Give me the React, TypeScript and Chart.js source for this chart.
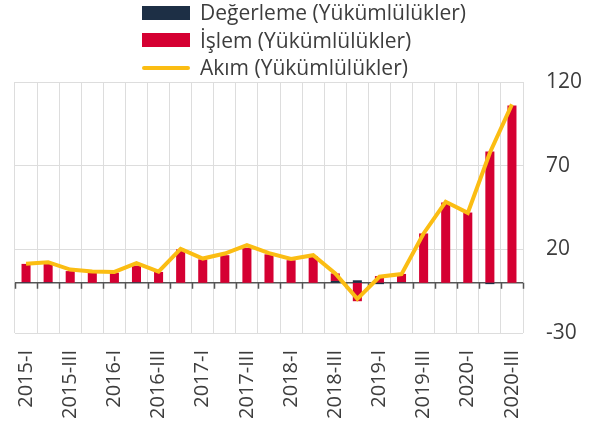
import React, { useEffect, useRef } from 'react';
import { Chart, registerables } from 'chart.js';

Chart.register(...registerables);

const categories = [
  '2015-I', '2015-II', '2015-III', '2015-IV',
  '2016-I', '2016-II', '2016-III', '2016-IV',
  '2017-I', '2017-II', '2017-III', '2017-IV',
  '2018-I', '2018-II', '2018-III', '2018-IV',
  '2019-I', '2019-II', '2019-III', '2019-IV',
  '2020-I', '2020-II', '2020-III',
];

const degerleme = [0.3, 0.3, 0, 0, 0, 0.3, 0, 0, 0, 0, 0, 0, 0, 0, 1.1, 1.5, -0.8, 0.3, 0, 0, 0, -0.8, 0];
const islem = [11, 11.5, 7, 6, 6, 10, 6.5, 20, 14, 16.5, 21, 17, 13.5, 16, 4.5, -11, 4, 5, 29.5, 48, 42, 78.5, 106];
const akim = [11.4, 12.3, 7.9, 6.7, 6.5, 11.7, 6.7, 20.3, 14.5, 17.5, 22.5, 17.7, 14.3, 16.5, 5.6, -9.6, 3.6, 5.2, 29.5, 48.4, 41.8, 77.7, 106.6];

const yTicks = [-30, 20, 70, 120];

const legendItems = [
  { label: 'Değerleme (Yükümlülükler)', color: '#1d2f45', kind: 'box' },
  { label: 'İşlem (Yükümlülükler)', color: '#d50032', kind: 'box' },
  { label: 'Akım (Yükümlülükler)', color: '#fbbd13', kind: 'line' },
];

const FONT = "'Open Sans', sans-serif";
const TEXT = '#3d3d3d';

const zeroAxisPlugin = {
  id: 'zeroAxis',
  beforeDatasetsDraw(chart: any) {
    const { ctx, chartArea, scales } = chart;
    const y0 = scales.y.getPixelForValue(0);
    const x = scales.x;
    const step = x.getPixelForValue(1) - x.getPixelForValue(0);
    ctx.save();
    ctx.strokeStyle = '#555555';
    ctx.lineWidth = 1.5;
    ctx.beginPath();
    ctx.moveTo(chartArea.left, y0);
    ctx.lineTo(chartArea.right, y0);
    for (let i = 0; i <= categories.length; i++) {
      const px = i < categories.length ? x.getPixelForValue(i) - step / 2 : chartArea.right;
      ctx.moveTo(Math.round(px) + 0.5, y0);
      ctx.lineTo(Math.round(px) + 0.5, y0 + 6);
    }
    ctx.stroke();
    ctx.restore();
  },
};

export default function App() {
  const ref = useRef<HTMLCanvasElement | null>(null);

  useEffect(() => {
    document.body.style.margin = '0';
    if (!ref.current) return;
    const chart = new Chart(ref.current, {
      type: 'bar',
      data: {
        labels: categories,
        datasets: [
          {
            type: 'line',
            label: 'Akım (Yükümlülükler)',
            data: akim,
            borderColor: '#fbbd13',
            backgroundColor: '#fbbd13',
            borderWidth: 4,
            pointRadius: 0,
            tension: 0,
            order: 0,
          } as any,
          {
            label: 'Değerleme (Yükümlülükler)',
            data: degerleme,
            backgroundColor: '#1d2f45',
            stack: 's',
            order: 1,
            barPercentage: 0.41,
            categoryPercentage: 1,
          },
          {
            label: 'İşlem (Yükümlülükler)',
            data: islem,
            backgroundColor: '#d50032',
            stack: 's',
            order: 1,
            barPercentage: 0.41,
            categoryPercentage: 1,
          },
        ],
      },
      options: {
        animation: false,
        responsive: false,
        layout: { padding: { top: 82, left: 15, right: 0, bottom: 6 } },
        plugins: {
          legend: { display: false },
          tooltip: { enabled: false },
        },
        scales: {
          x: {
            stacked: true,
            grid: { color: '#dddddd', lineWidth: 1, offset: true, drawTicks: false },
            border: { display: false },
            afterFit: (axis: any) => {
              axis.height = 91;
            },
            ticks: {
              autoSkip: false,
              minRotation: 90,
              maxRotation: 90,
              padding: 17,
              color: TEXT,
              font: { family: FONT, size: 20 },
              callback: (_v: any, i: number) => (i % 2 === 0 ? categories[i] : ''),
            },
          },
          y: {
            stacked: true,
            position: 'right',
            min: -30,
            max: 120,
            afterBuildTicks: (axis: any) => {
              axis.ticks = yTicks.map((v) => ({ value: v }));
            },
            afterFit: (axis: any) => {
              axis.width = 75;
            },
            grid: { color: '#dddddd', lineWidth: 1, drawTicks: false },
            border: { display: false },
            ticks: {
              padding: 23,
              color: TEXT,
              font: { family: FONT, size: 21 },
            },
          },
        },
      },
      plugins: [zeroAxisPlugin],
    });
    return () => chart.destroy();
  }, []);

  return (
    <div style={{ position: 'relative', width: 598, height: 430, background: '#fff' }}>
      <canvas ref={ref} width={598} height={430} style={{ position: 'absolute', left: 0, top: 0 }} />
      <div style={{ position: 'absolute', left: 142, top: -1, fontFamily: FONT, fontSize: 21, color: TEXT }}>
        {legendItems.map((it) => (
          <div key={it.label} style={{ display: 'flex', alignItems: 'center', height: 27.5, lineHeight: '27px', whiteSpace: 'nowrap' }}>
            {it.kind === 'box' ? (
              <span style={{ display: 'inline-block', width: 48, height: 14, background: it.color, marginRight: 10 }} />
            ) : (
              <span style={{ display: 'inline-block', width: 48, height: 4, borderRadius: 2, background: it.color, marginRight: 10 }} />
            )}
            <span>{it.label}</span>
          </div>
        ))}
      </div>
    </div>
  );
}
